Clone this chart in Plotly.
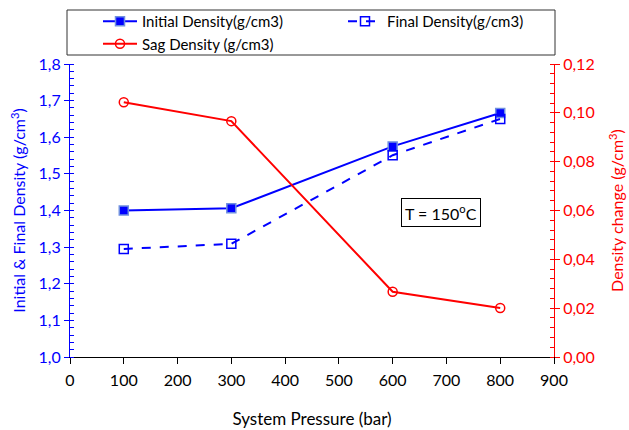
import plotly.graph_objects as go

# System pressure (bar) and measured densities
pressure = [100, 300, 600, 800]
initial_density = [1.400, 1.406, 1.575, 1.666]
final_density = [1.295, 1.309, 1.551, 1.650]
sag_density = [0.1043, 0.0966, 0.0267, 0.0201]

x_ticks = list(range(0, 1000, 100))
left_ticks = [1.0, 1.1, 1.2, 1.3, 1.4, 1.5, 1.6, 1.7, 1.8]
right_ticks = [0.00, 0.02, 0.04, 0.06, 0.08, 0.10, 0.12]

BLUE = "#0000ff"
RED = "#ff0000"
FONT = "Lato"

fig = go.Figure()

fig.add_trace(go.Scatter(
    x=pressure, y=initial_density, name="Initial Density(g/cm3)",
    mode="lines+markers", legend="legend",
    line=dict(color=BLUE, width=2),
    marker=dict(symbol="square", size=9, color=BLUE,
                line=dict(color="#6f8fe0", width=1.5)),
))
fig.add_trace(go.Scatter(
    x=pressure, y=final_density, name="Final Density(g/cm3)",
    mode="lines+markers", legend="legend2",
    line=dict(color=BLUE, width=2, dash="dash"),
    marker=dict(symbol="square-open", size=9, color=BLUE,
                line=dict(width=1.5)),
))
fig.add_trace(go.Scatter(
    x=pressure, y=sag_density, name="Sag Density (g/cm3)",
    mode="lines+markers", yaxis="y2", legend="legend",
    line=dict(color=RED, width=2),
    marker=dict(symbol="circle-open", size=9, color=RED,
                line=dict(width=1.5)),
))

fig.add_annotation(
    x=690, y=1.395, xref="x", yref="y",
    text="T = 150<sup>o</sup>C", showarrow=False,
    font=dict(family=FONT, size=16, color="black"),
    bordercolor="black", borderwidth=1, borderpad=3, bgcolor="white",
)

# frame around the legend entries
fig.add_shape(
    type="rect", xref="paper", yref="paper",
    x0=-3 / 484, x1=485 / 484, y0=1 + 9 / 293, y1=1 + 54 / 293,
    line=dict(color="#333333", width=1), fillcolor="rgba(0,0,0,0)",
)

legend_style = dict(
    orientation="v", xanchor="left", yanchor="top",
    borderwidth=0, bgcolor="rgba(0,0,0,0)",
    font=dict(family=FONT, size=15, color="black"),
    tracegroupgap=0, itemwidth=34,
)

fig.update_layout(
    width=629, height=430,
    margin=dict(l=70, r=75, t=64, b=73, autoexpand=False),
    paper_bgcolor="white", plot_bgcolor="white",
    separators=",.",
    font=dict(family=FONT, size=16, color="black"),
    showlegend=True,
    legend=dict(x=28 / 484, y=1 + 59 / 293, **legend_style),
    legend2=dict(x=273 / 484, y=1 + 59 / 293, **legend_style),
    xaxis=dict(
        range=[0, 900], tickvals=x_ticks, ticks="outside", ticklen=6,
        tickcolor="black", showline=True, linecolor="black", linewidth=1,
        showgrid=False, zeroline=False, ticklabelstandoff=3,
        tickfont=dict(size=16, color="black"),
        title=dict(text="System Pressure (bar)", standoff=24,
                   font=dict(size=17, color="black")),
    ),
    yaxis=dict(
        range=[1.0, 1.8], tickvals=left_ticks, tickformat=".1f",
        ticks="outside", ticklen=5, tickcolor=BLUE,
        minor=dict(ticks="inside", ticklen=4, tickcolor=BLUE, dtick=0.02),
        showline=True, linecolor=BLUE, linewidth=1,
        showgrid=False, zeroline=False,
        tickfont=dict(size=16, color=BLUE),
        title=dict(text="Initial & Final Density (g/cm<sup>3</sup>)",
                   standoff=8, font=dict(size=16, color=BLUE)),
    ),
    yaxis2=dict(
        range=[0.0, 0.12], tickvals=right_ticks, tickformat=".2f",
        overlaying="y", side="right", anchor="x",
        ticks="outside", ticklen=5, tickcolor=RED,
        minor=dict(ticks="inside", ticklen=4, tickcolor=RED, dtick=0.004),
        showline=True, linecolor=RED, linewidth=1,
        showgrid=False, zeroline=False,
        tickfont=dict(size=16, color=RED),
        title=dict(text="Density change (g/cm<sup>3</sup>)",
                   standoff=18, font=dict(size=16, color=RED)),
    ),
)

fig.write_html("out.html")
